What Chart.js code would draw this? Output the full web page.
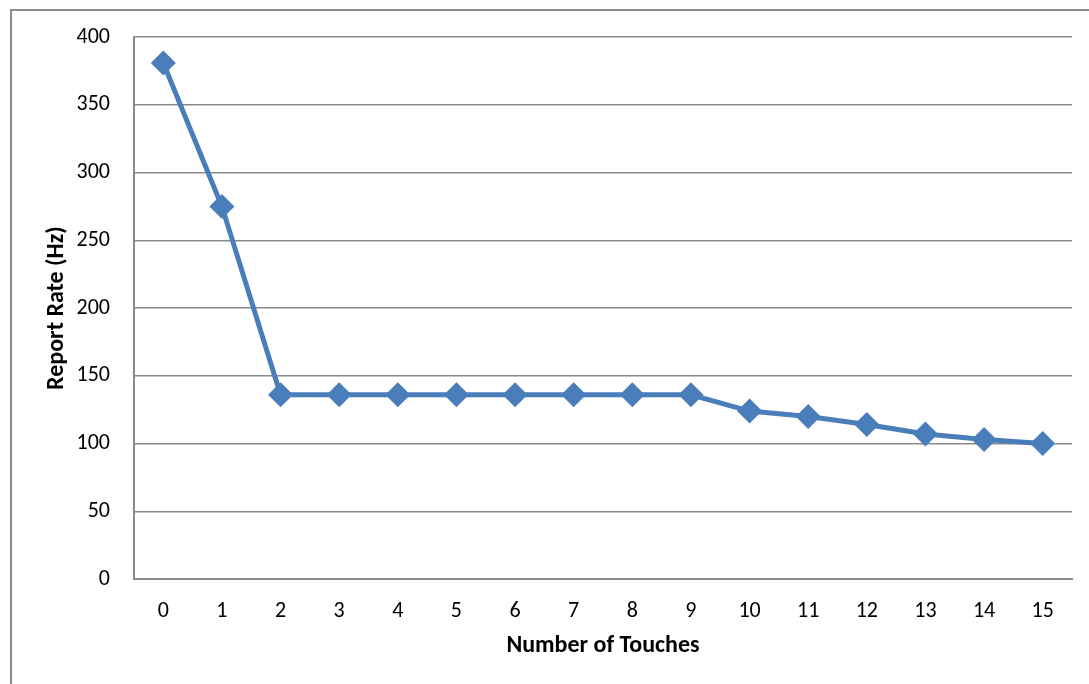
<!DOCTYPE html>
<html>
<head>
<meta charset="utf-8">
<script src="https://cdn.jsdelivr.net/npm/chart.js@4"></script>
<style>
  html, body { margin: 0; padding: 0; background: #fff; }
  #wrap { position: relative; width: 1089px; height: 684px; overflow: hidden; }
  #frame { position: absolute; left: 10px; top: 9px; width: 1200px; height: 800px;
           border-left: 2px solid #8a8a8a; border-top: 2px solid #8a8a8a; }
  canvas { position: absolute; left: 0; top: 0; }
</style>
</head>
<body>
<div id="wrap">
  <div id="frame"></div>
  <canvas id="chart" width="1089" height="684"></canvas>
</div>
<script>
// Number of touches vs report rate
const touches = ['0', '1', '2', '3', '4', '5', '6', '7', '8', '9', '10', '11', '12', '13', '14', '15'];
const reportRate = [381, 275, 136, 136, 136, 136, 136, 136, 136, 136, 124, 120, 114, 107, 103, 100];
const yTicks = [0, 50, 100, 150, 200, 250, 300, 350, 400];

const FONT = 'Carlito, Calibri, Lato, sans-serif';
const gridColor = '#8a8a8a';

new Chart(document.getElementById('chart'), {
    type: 'line',
    data: {
        labels: touches,
        datasets: [{
            data: reportRate,
            borderColor: '#4a7ebb',
            backgroundColor: '#4a7ebb',
            borderWidth: 5,
            pointStyle: 'rectRot',
            pointRadius: 9,
            pointHoverRadius: 9,
            tension: 0
        }]
    },
    options: {
        responsive: false,
        animation: false,
        layout: { padding: { left: 43, top: 36, right: 17, bottom: 24 } },
        plugins: { legend: { display: false }, tooltip: { enabled: false } },
        scales: {
            x: {
                offset: true,
                grid: { display: false, drawTicks: false },
                border: { display: true, color: gridColor, width: 2 },
                ticks: { color: '#000', padding: 19, font: { family: FONT, size: 22 } },
                title: { display: true, text: 'Number of Touches', color: '#000',
                         padding: 0, font: { family: FONT, size: 24, weight: 'bold' } },
                afterFit: s => { s.height = 81; }
            },
            y: {
                min: 0, max: 400,
                afterBuildTicks: s => { s.ticks = yTicks.map(v => ({ value: v })); },
                grid: { color: gridColor, lineWidth: 1.5, drawTicks: false },
                border: { display: true, color: gridColor, width: 2 },
                ticks: { color: '#000', padding: 24, font: { family: FONT, size: 22 } },
                title: { display: true, text: 'Report Rate (Hz)', color: '#000',
                         padding: 0, font: { family: FONT, size: 24, weight: 'bold' } },
                afterFit: s => { s.width = 91; }
            }
        }
    }
});
</script>
</body>
</html>
